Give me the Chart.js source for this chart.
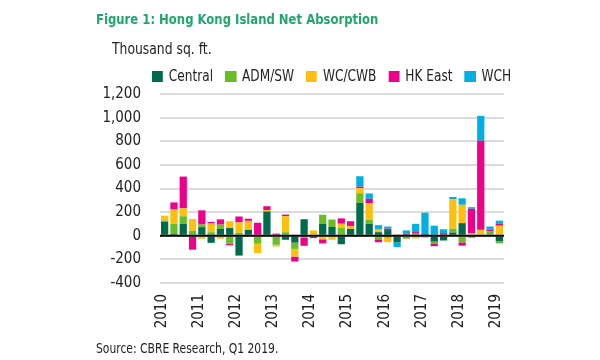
<!DOCTYPE html>
<html>
<head>
<meta charset="utf-8">
<script src="https://cdn.jsdelivr.net/npm/chart.js@4.4.0/dist/chart.umd.min.js"></script>
<style>
  html, body { margin: 0; padding: 0; background: #ffffff; }
  #wrap { position: relative; width: 600px; height: 360px; overflow: hidden;
          font-family: "DejaVu Sans Condensed", "DejaVu Sans", sans-serif; font-stretch: condensed; color: #222; }
  #chart { position: absolute; left: 0; top: 0; }
  .txt { position: absolute; white-space: nowrap; line-height: 1; transform-origin: 0 50%; }
  #title { left: 96px; top: 12px; font-size: 14px; font-weight: bold; color: #1ea86c; transform: scaleX(0.925); }
  #unit { left: 112px; top: 41px; font-size: 16px; transform: scaleX(0.86); }
  #source { left: 96px; top: 341px; font-size: 14px; transform: scaleX(0.855); }
  #legend { position: absolute; left: 152px; top: 69px; display: flex; align-items: center; font-size: 15px; line-height: 1;
            white-space: nowrap; transform: scaleX(0.9); transform-origin: 0 50%; }
  #legend .item { display: flex; align-items: center; margin-right: 13.5px; }
  #legend .box { width: 12.2px; height: 11px; margin-right: 6.5px; }
</style>
</head>
<body>
<div id="wrap">
  <canvas id="chart" width="600" height="360"></canvas>
  <div class="txt" id="title">Figure 1: Hong Kong Island Net Absorption</div>
  <div class="txt" id="unit">Thousand sq. ft.</div>
  <div id="legend"></div>
  <div class="txt" id="source">Source: CBRE Research, Q1 2019.</div>
</div>
<script>
// ---- Data (thousand sq. ft.), quarterly 2010 Q1 – 2019 Q1 ----
const yearLabels = ['2010','2011','2012','2013','2014','2015','2016','2017','2018','2019'];
const categories = [];
yearLabels.forEach(function (y) { ['Q1','Q2','Q3','Q4'].forEach(function (q) { categories.push(y + ' ' + q); }); });
categories.length = 37; // ends at 2019 Q1

const seriesNames = ['Central', 'ADM/SW', 'WC/CWB', 'HK East', 'WCH'];
const seriesColors = ['#006a4d', '#69be28', '#fdc010', '#ec008c', '#00b0e0'];

const central = [120, 15, 100, 0, 73, -60, 57, 65, -168, 50, 0, 205, 0, -34, -58, 140, 0, 100, 75, -72, 58, 280, 101, 30, 48, -55, 0, 0, 0, -50, -40, 27, 107, 0, 0, 0, -45];
const admSw   = [8, 85, 65, 42, 22, 30, 37, -68, 25, 0, -68, 0, -76, 30, -53, -15, 0, 78, 62, 65, 0, 80, 34, -30, -17, 0, -25, 17, 0, -20, 0, 33, -56, -18, 0, 38, -20];
const wcCwb   = [42, 122, 68, 100, -25, 75, -25, 58, 88, 76, -78, 12, -15, 135, -65, 0, 45, -30, -34, 37, 25, 42, 141, 22, -38, 12, 0, -22, -18, 0, 0, 248, 155, 22, 50, -10, 85];
const hkEast  = [0, 60, 268, -118, 120, 12, 45, -12, 50, 18, 110, 33, 18, 14, -42, -70, -20, -35, 0, 45, 40, 14, 37, -25, 12, 0, 17, 14, 5, -18, 22, 0, -28, 206, 755, 14, 15];
const wch     = [0, 0, 0, 0, 0, 0, 0, 0, 0, 0, 0, 0, 0, 0, 0, 0, 0, 0, 0, 0, 0, 88, 45, 38, 18, -40, 28, 70, 190, 85, 33, 20, 55, 14, 210, 26, 28];

const yMin = -400, yMax = 1200, yStep = 200;

const seriesValues = [central, admSw, wcCwb, hkEast, wch];
const datasets = seriesNames.map(function (name, i) {
  return {
    label: name,
    data: seriesValues[i],
    backgroundColor: seriesColors[i],
    borderWidth: 0,
    barPercentage: 0.78,
    categoryPercentage: 1.0
  };
});

const FONT = '"DejaVu Sans Condensed", "DejaVu Sans", sans-serif';

const zeroLine = {
  id: 'zeroLine',
  afterDatasetsDraw: function (chart) {
    const ctx = chart.ctx;
    const y = chart.scales.y.getPixelForValue(0);
    const a = chart.chartArea;
    ctx.save();
    ctx.strokeStyle = '#000000';
    ctx.lineWidth = 2;
    ctx.beginPath();
    ctx.moveTo(a.left, y);
    ctx.lineTo(a.right, y);
    ctx.stroke();
    ctx.restore();
  }
};

const chart = new Chart(document.getElementById('chart'), {
  type: 'bar',
  data: { labels: categories, datasets: datasets },
  options: {
    responsive: false,
    animation: false,
    layout: { padding: { top: 94, right: 96, bottom: 0, left: 0 } },
    plugins: { legend: { display: false }, tooltip: { enabled: false } },
    scales: {
      x: {
        stacked: true,
        offset: true,
        grid: { display: false, drawTicks: false },
        border: { display: false },
        ticks: {
          autoSkip: false,
          maxRotation: 90,
          minRotation: 90,
          padding: 11,
          labelOffset: -3,
          color: '#222',
          font: { family: FONT, size: 15 },
          callback: function (v, i) { return i % 4 === 0 ? yearLabels[i / 4] : ''; }
        },
        afterFit: function (s) { s.height = 77; }
      },
      y: {
        stacked: true,
        min: yMin,
        max: yMax,
        grid: { color: '#dcdcdc', lineWidth: 2, drawTicks: false },
        border: { display: false },
        ticks: {
          autoSkip: false,
          stepSize: yStep,
          padding: 19,
          color: '#222',
          font: { family: FONT, size: 15 },
          callback: function (v) { return v.toLocaleString('en-US'); }
        },
        afterFit: function (s) { s.width = 160; }
      }
    }
  },
  plugins: [zeroLine]
});

// HTML legend built from the chart's datasets
const legendEl = document.getElementById('legend');
chart.data.datasets.forEach(function (ds) {
  const item = document.createElement('div');
  item.className = 'item';
  const box = document.createElement('span');
  box.className = 'box';
  box.style.background = ds.backgroundColor;
  const t = document.createElement('span');
  t.textContent = ds.label;
  item.appendChild(box);
  item.appendChild(t);
  legendEl.appendChild(item);
});
</script>
</body>
</html>
